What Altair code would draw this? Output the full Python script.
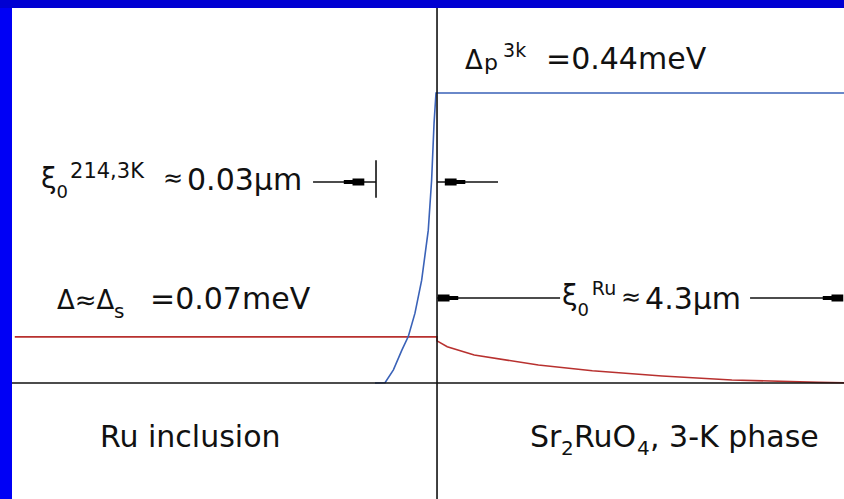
import altair as alt
import pandas as pd

# ---- data (x in µm from the interface, y in meV) ----
blue_x = [-0.667, -0.559, -0.469, -0.378, -0.308, -0.237, -0.165, -0.094, -0.058, -0.032, -0.011, 0.0, 4.376]
blue_y = [0.0, 0.0005, 0.020, 0.050, 0.071, 0.106, 0.156, 0.232, 0.308, 0.394, 0.44, 0.44, 0.44]

red_x = [-4.54, 0.0, 0.0, 0.11, 0.40, 1.09, 1.67, 2.42, 3.17, 4.10, 4.376]
red_y = [0.07, 0.07, 0.064, 0.055, 0.0425, 0.0273, 0.0187, 0.0106, 0.0046, 0.001, 0.0005]

# annotation texts
ann_text = ["Δ", "p", "3k", "=0.44meV",
            "ξ", "0", "214,3K", "≈", "0.03µm",
            "Δ≈Δ", "s", "=0.07meV",
            "ξ", "0", "Ru", "≈", "4.3µm",
            "Ru inclusion",
            "Sr", "2", "RuO", "4", ", 3-K phase"]
ann_x = [0.301, 0.505, 0.710, 1.172,
         -4.258, -4.092, -3.946, -2.946, -2.688,
         -4.086, -3.473, -3.086,
         1.344, 1.510, 1.665, 1.978, 2.237,
         -3.624,
         1.000, 1.333, 1.473, 2.151, 2.290]
ann_y = [0.4765, 0.4750, 0.4947, 0.4765,
         0.2959, 0.2807, 0.3111, 0.2989, 0.2929,
         0.1123, 0.0986, 0.1123,
         0.1184, 0.1017, 0.1335, 0.1184, 0.1123,
         -0.0971,
         -0.0971, -0.1093, -0.0971, -0.1093, -0.0971]
ann_fs = [26, 22, 19, 30,
          28, 18, 21, 24, 30,
          26, 20, 30,
          28, 18, 19, 24, 30,
          30,
          30, 20, 30, 20, 30]

# arrow shafts / ticks / axes (x, x2, y, y2)
seg_x = [-4.57, 0.0, -1.333, -0.656, 0.0, 0.0, 3.366]
seg_x2 = [4.376, 0.0, -0.656, -0.656, 0.656, 1.323, 4.31]
seg_y = [0.0, 0.5691, 0.305, 0.281, 0.305, 0.129, 0.129]
seg_y2 = [0.0, -0.176, 0.305, 0.338, 0.305, 0.129, 0.129]

# arrow heads
headL_x = [0.194, 0.118]
headL_y = [0.305, 0.129]
headR_x = [-0.892, 4.258]
headR_y = [0.305, 0.129]

xs = alt.Scale(domain=[-4.699, 4.376], nice=False, zero=False)
ys = alt.Scale(domain=[-0.176, 0.5812], nice=False, zero=False)

blue_df = pd.DataFrame({"x": blue_x, "y": blue_y, "i": range(len(blue_x))})
red_df = pd.DataFrame({"x": red_x, "y": red_y, "i": range(len(red_x))})
ann_df = pd.DataFrame({"x": ann_x, "y": ann_y, "t": ann_text, "fs": ann_fs})
seg_df = pd.DataFrame({"x": seg_x, "x2": seg_x2, "y": seg_y, "y2": seg_y2})
hl_df = pd.DataFrame({"x": headL_x, "y": headL_y})
hr_df = pd.DataFrame({"x": headR_x, "y": headR_y})

FONT = "DejaVu Sans"

border_left = alt.Chart(pd.DataFrame({"a": [0]})).mark_rect(color="#0000F5").encode(
    x=alt.value(0), x2=alt.value(12), y=alt.value(0), y2=alt.value(499))
border_top = alt.Chart(pd.DataFrame({"a": [0]})).mark_rect(color="#0000D2").encode(
    x=alt.value(0), x2=alt.value(844), y=alt.value(0), y2=alt.value(8))

segs = alt.Chart(seg_df).mark_rule(color="#111111", strokeWidth=1.6).encode(
    x=alt.X("x:Q", scale=xs, axis=None), x2="x2:Q",
    y=alt.Y("y:Q", scale=ys, axis=None), y2="y2:Q")

red = alt.Chart(red_df).mark_line(color="#B8312F", strokeWidth=1.6).encode(
    x=alt.X("x:Q", scale=xs, axis=None),
    y=alt.Y("y:Q", scale=ys, axis=None),
    order="i:Q")

blue = alt.Chart(blue_df).mark_line(color="#3A62B8", strokeWidth=1.6).encode(
    x=alt.X("x:Q", scale=xs, axis=None),
    y=alt.Y("y:Q", scale=ys, axis=None),
    order="i:Q")

pathL = "M-1,-0.35L0.15,-0.35L0.15,-0.2L1,-0.2L1,0.2L0.15,0.2L0.15,0.35L-1,0.35Z"
pathR = "M1,-0.35L-0.15,-0.35L-0.15,-0.2L-1,-0.2L-1,0.2L-0.15,0.2L-0.15,0.35L1,0.35Z"

headsL = alt.Chart(hl_df).mark_point(shape=pathL, filled=True, color="#000000",
                                     size=420, opacity=1).encode(
    x=alt.X("x:Q", scale=xs, axis=None), y=alt.Y("y:Q", scale=ys, axis=None))
headsR = alt.Chart(hr_df).mark_point(shape=pathR, filled=True, color="#000000",
                                     size=420, opacity=1).encode(
    x=alt.X("x:Q", scale=xs, axis=None), y=alt.Y("y:Q", scale=ys, axis=None))

texts = alt.Chart(ann_df).mark_text(align="left", baseline="alphabetic", font=FONT,
                                    color="#111111").encode(
    x=alt.X("x:Q", scale=xs, axis=None),
    y=alt.Y("y:Q", scale=ys, axis=None),
    text="t:N",
    size=alt.Size("fs:Q", scale=None, legend=None))

chart = alt.layer(border_left, border_top, red, blue, segs, headsL, headsR, texts).properties(
    width=844, height=499, autosize="none", padding=0, background="white"
).configure_view(stroke=None)

chart.save("out.html", embed_options={"renderer": "svg", "actions": False})
